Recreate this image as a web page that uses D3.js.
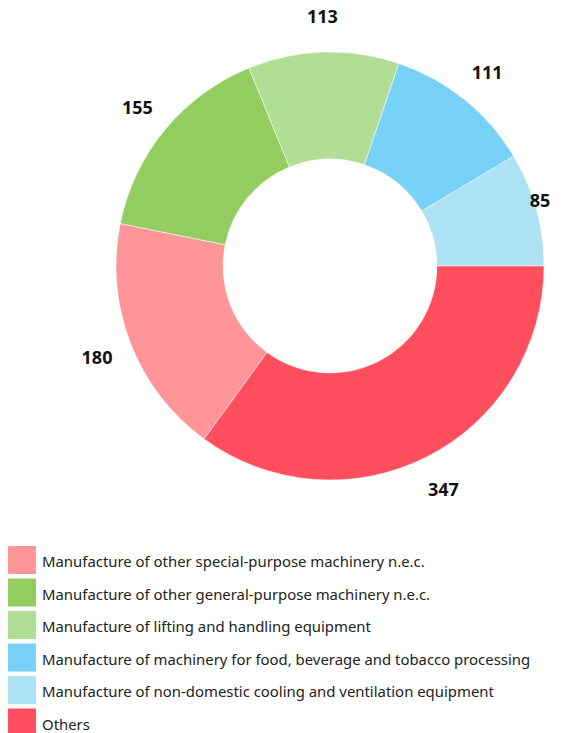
<!DOCTYPE html>
<html>
<head>
<meta charset="utf-8">
<script src="https://cdn.jsdelivr.net/npm/d3@7"></script>
<style>
  body { margin: 0; background: #fff; }
  .label { font-family: "Noto Sans", sans-serif; font-weight: bold; font-size: 18px; fill: #111; }
  .legend text { font-family: "Noto Sans", sans-serif; font-size: 14.9px; fill: #222; }
</style>
</head>
<body>
<svg id="chart"></svg>
<script>
// categories, values and colours in legend order
const categories = [
  "Manufacture of other special-purpose machinery n.e.c.",
  "Manufacture of other general-purpose machinery n.e.c.",
  "Manufacture of lifting and handling equipment",
  "Manufacture of machinery for food, beverage and tobacco processing",
  "Manufacture of non-domestic cooling and ventilation equipment",
  "Others"
];
const values = [180, 155, 113, 111, 85, 347];
const colors = ["#ff9599", "#93cd60", "#b1de95", "#78d2f7", "#ade1f4", "#ff4e5e"];

const width = 581, height = 733;
const cx = 330, cy = 266, outerR = 214, innerR = 107, labelR = 250;

const svg = d3.select("#chart")
    .attr("width", width)
    .attr("height", height);

const data = categories.map((c, i) => ({name: c, value: values[i], color: colors[i]}));

// "Others" ends at 3 o'clock, so start the first slice right after it
const total = d3.sum(values);
const start = Math.PI / 2 + 2 * Math.PI * values[values.length - 1] / total;

const pie = d3.pie()
    .sort(null)
    .value(d => d.value)
    .startAngle(start)
    .endAngle(start + 2 * Math.PI);

const arc = d3.arc()
    .innerRadius(innerR)
    .outerRadius(outerR);

const chart = svg.append("g")
    .attr("transform", `translate(${cx},${cy})`);

const arcs = pie(data);

chart.selectAll(".slice")
    .data(arcs)
    .enter()
  .append("path")
    .attr("class", "slice")
    .attr("d", arc)
    .attr("fill", d => d.data.color)
    .attr("stroke", "#fff")
    .attr("stroke-width", 0.5);

// value labels outside the ring, kept inside the page
chart.selectAll(".label")
    .data(arcs)
    .enter()
  .append("text")
    .attr("class", "label")
    .attr("text-anchor", "middle")
    .attr("dy", "0.4em")
    .attr("x", d => {
      const a = (d.startAngle + d.endAngle) / 2;
      return Math.min(labelR * Math.sin(a), width - cx - 41);
    })
    .attr("y", d => {
      const a = (d.startAngle + d.endAngle) / 2;
      return -labelR * Math.cos(a);
    })
    .text(d => d.data.value);

// legend
const legend = svg.append("g")
    .attr("class", "legend")
    .attr("transform", "translate(8,546)");

const rows = legend.selectAll("g")
    .data(data)
    .enter()
  .append("g")
    .attr("transform", (d, i) => `translate(0,${i * 32.5})`);

rows.append("rect")
    .attr("width", 28)
    .attr("height", 28)
    .attr("fill", d => d.color);

rows.append("text")
    .attr("x", 34)
    .attr("y", 21)
    .text(d => d.name);
</script>
</body>
</html>
